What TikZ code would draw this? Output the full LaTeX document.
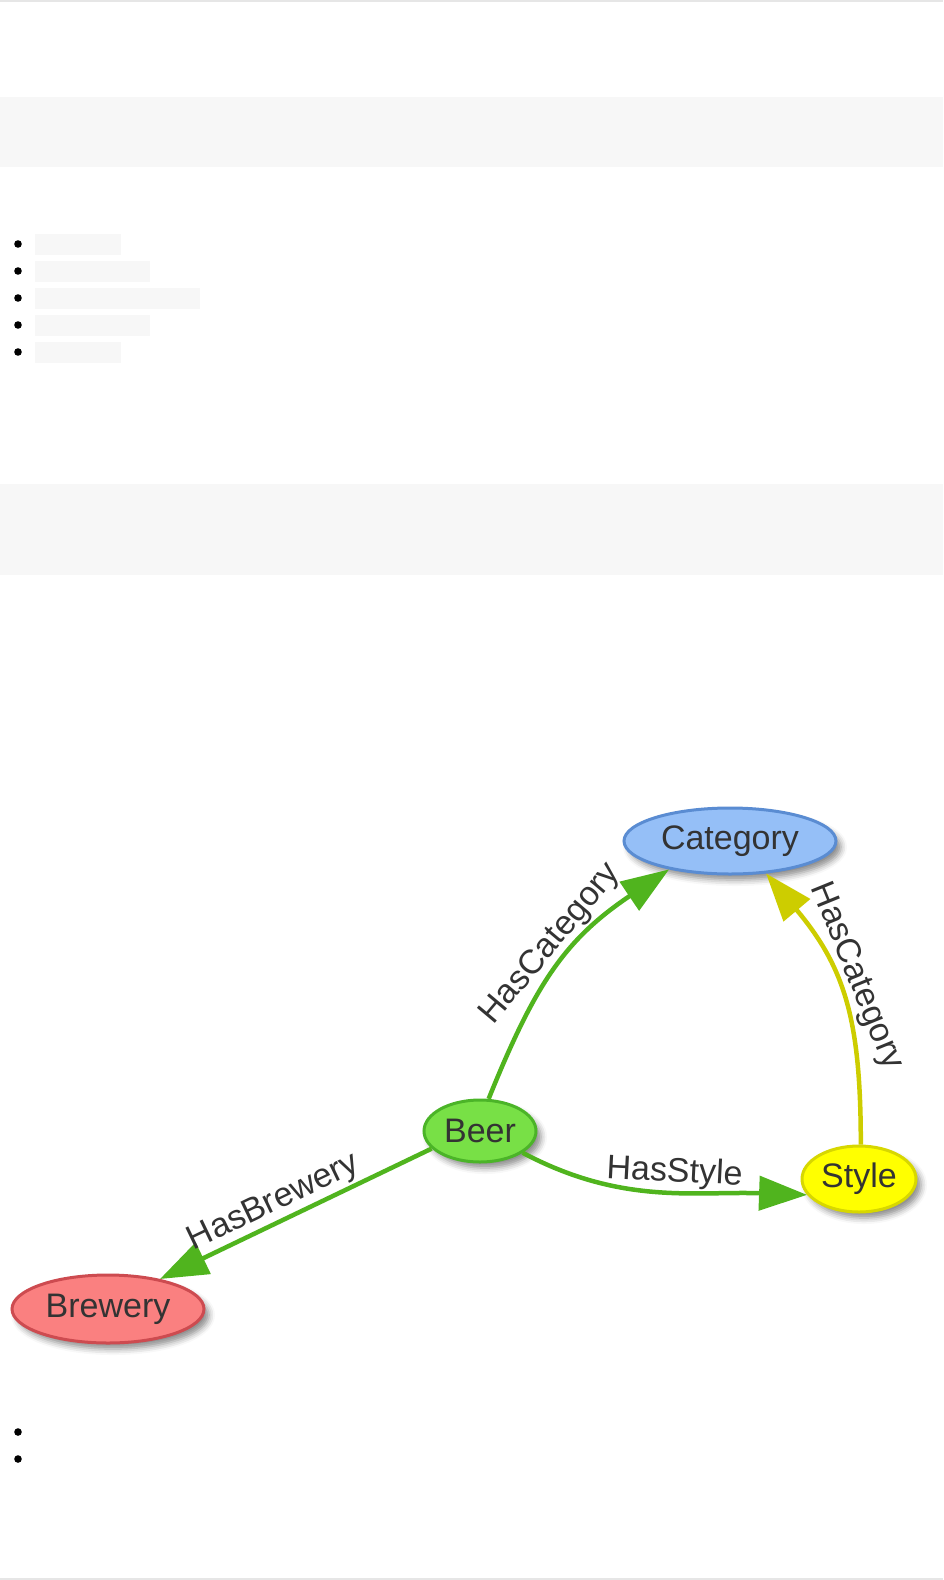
\documentclass[tikz,border=0pt]{standalone}
\usepackage{fontspec}
\setmainfont{Liberation Sans}
\usetikzlibrary{shapes.geometric,arrows.meta,shadows.blur}
\definecolor{textgray}{HTML}{333333}
\definecolor{rulegray}{HTML}{E6E6E6}
\definecolor{bandgray}{HTML}{F7F7F7}
\definecolor{catfill}{HTML}{95BFF7}
\definecolor{catline}{HTML}{5A8CD2}
\definecolor{beerfill}{HTML}{78E046}
\definecolor{beerline}{HTML}{4BB428}
\definecolor{stylefill}{HTML}{FFFF00}
\definecolor{styleline}{HTML}{D7D700}
\definecolor{brewfill}{HTML}{FA8080}
\definecolor{brewline}{HTML}{CD4B50}
\definecolor{edgegreen}{HTML}{50B41E}
\definecolor{edgeyellow}{HTML}{CDCD00}
\tikzset{
  entity/.style={ellipse, draw, line width=3pt, inner sep=0pt, text=textgray,
    font=\fontsize{34}{40}\selectfont,
    blur shadow={shadow xshift=5pt, shadow yshift=-6pt, shadow blur radius=6pt, shadow opacity=45}},
  rel/.style={line width=4.5pt, -{Triangle[length=48pt,width=34pt]}},
  lbl/.style={sloped, above, inner sep=2pt, text=textgray, font=\fontsize{34}{40}\selectfont},
}
\begin{document}
\begin{tikzpicture}[x=1pt,y=-1pt]
  \useasboundingbox (0,0) rectangle (943,1580);
  % page rules and bands
  \draw[line width=2pt,rulegray] (0,1) -- (943,1);
  \draw[line width=2pt,rulegray] (0,1579) -- (943,1579);
  \fill[bandgray] (0,97) rectangle (943,167);
  \fill[bandgray] (0,484) rectangle (943,575);
  % lists
  \foreach \y/\w in {244/86,271/115,298/165,325/115,352/86} {
    \fill (18,\y) circle (3.8);
    \fill[bandgray] (35,{\y-10}) rectangle ++(\w,21);
  }
  \foreach \y in {1432,1459} \fill (18,\y) circle (3.8);
  % entities
  \node[entity, fill=catfill, draw=catline, minimum width=212pt, minimum height=66pt] (category) at (730,841) {Category};
  \node[entity, fill=beerfill, draw=beerline, minimum width=112pt, minimum height=62pt] (beer) at (480,1131) {Beer};
  \node[entity, fill=stylefill, draw=styleline, minimum width=114pt, minimum height=66pt] (style) at (859,1179) {Style};
  \node[entity, fill=brewfill, draw=brewline, minimum width=192pt, minimum height=68pt] (brewery) at (108,1309) {Brewery};
  % relations
  \draw[rel, edgegreen] (beer.75) to[out=68,in=214,looseness=1.1] node[lbl,pos=.55] {HasCategory} (category.205);
  \draw[rel, edgeyellow] (style.87) to[out=90,in=-50,looseness=1.1] node[lbl,pos=.56] {HasCategory} (category.-42);
  \draw[rel, edgegreen] (beer.-27) to[out=-28,in=178] node[lbl,pos=.55] {HasStyle} (style.197);
  \draw[rel, edgegreen] (beer.200) -- node[lbl,pos=.55] {HasBrewery} (brewery.30);
\end{tikzpicture}
\end{document}
